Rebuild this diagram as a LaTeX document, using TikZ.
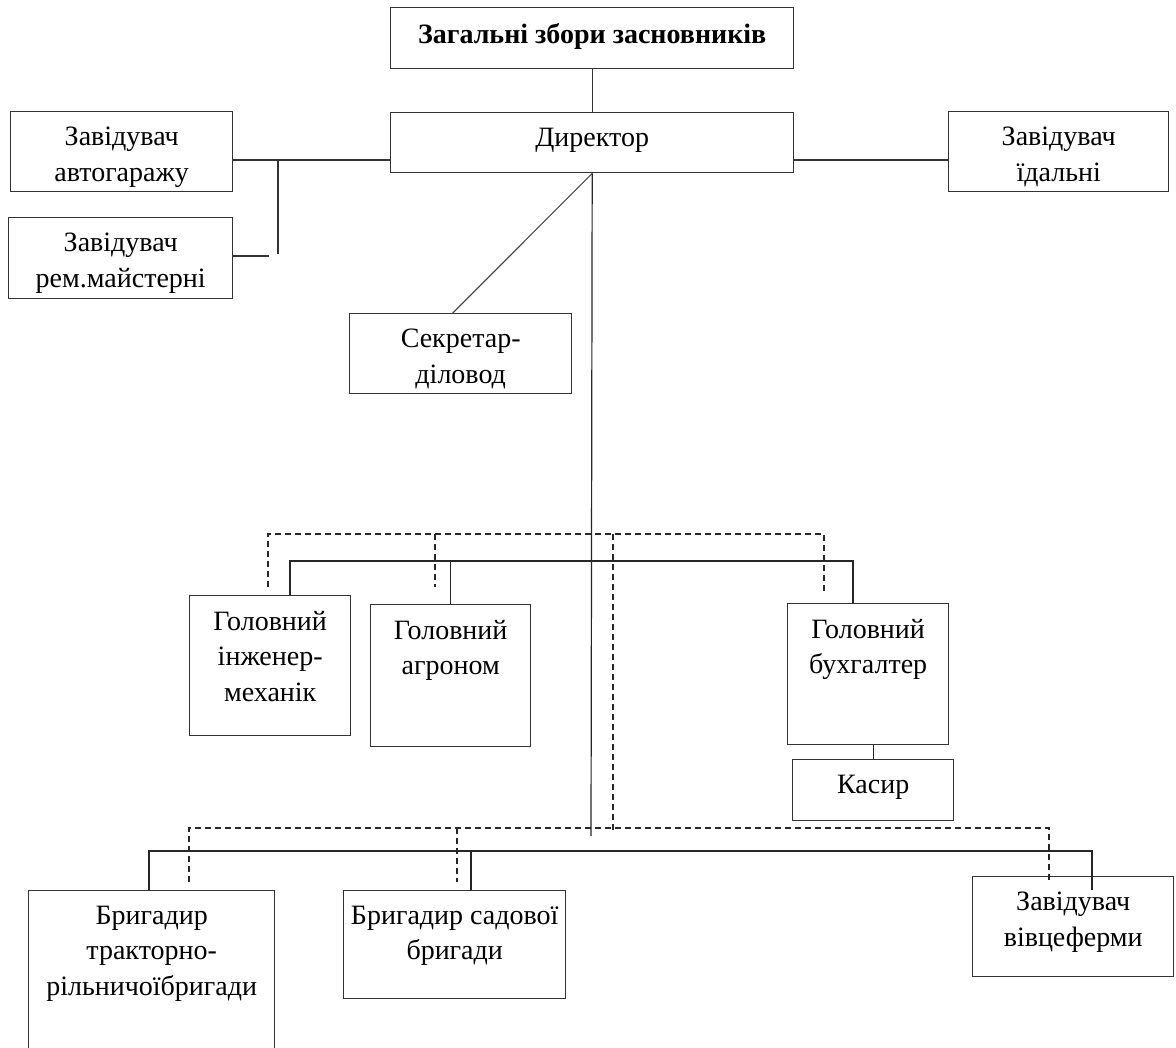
\documentclass[tikz,border=0pt]{standalone}
\usepackage{fontspec}
\setmainfont{Liberation Serif}
\usetikzlibrary{positioning}
\begin{document}
\begin{tikzpicture}[x=1pt, y=-1pt, line width=1.2pt,
		box/.style={draw=black!80, line width=1.4pt, inner sep=0pt, anchor=north west},
		lbl/.style={anchor=north, align=center, inner sep=0pt, yshift=-15.5pt, font=\fontsize{28}{35.5}\selectfont}]
		\useasboundingbox[fill=white] (0,0) rectangle (1176,1048);
		\node[box, minimum width=403pt, minimum height=61pt, label={[lbl, font=\fontsize{28}{35.5}\selectfont\bfseries]north:{Загальні збори засновників}}] (zbory) at (390,7) {};
		\node[box, minimum width=403pt, minimum height=60pt, label={[lbl]north:{Директор}}] (dyr) at (390,112) {};
		\node[box, minimum width=222pt, minimum height=80pt, label={[lbl]north:{Завідувач\\автогаражу}}] (garazh) at (10,111) {};
		\node[box, minimum width=224pt, minimum height=81pt, label={[lbl]north:{Завідувач\\рем.майстерні}}] (maist) at (8,217) {};
		\node[box, minimum width=220pt, minimum height=80pt, label={[lbl]north:{Завідувач\\їдальні}}] (idal) at (948,111) {};
		\node[box, minimum width=222pt, minimum height=80pt, label={[lbl]north:{Секретар-\\діловод}}] (sekr) at (349,313) {};
		\node[box, minimum width=161pt, minimum height=140pt, label={[lbl]north:{Головний\\інженер-\\механік}}] (inzh) at (189,595) {};
		\node[box, minimum width=160pt, minimum height=142pt, label={[lbl]north:{Головний\\агроном}}] (agro) at (370,604) {};
		\node[box, minimum width=161pt, minimum height=141pt, label={[lbl]north:{Головний\\бухгалтер}}] (buh) at (787,603) {};
		\node[box, minimum width=161pt, minimum height=61pt, label={[lbl]north:{Касир}}] (kasyr) at (792,759) {};
		\node[box, minimum width=246pt, minimum height=200pt, label={[lbl]north:{Бригадир\\тракторно-\\рільничоїбригади}}] (trakt) at (28,890) {};
		\node[box, minimum width=222pt, minimum height=108pt, label={[lbl]north:{Бригадир садової\\бригади}}] (sad) at (343,890) {};
		\node[box, minimum width=201pt, minimum height=100pt, label={[lbl]north:{Завідувач\\вівцеферми}}] (vivc) at (972,876) {};
		\draw[black!80] (zbory.south) -- (dyr.north);
		\draw[black!80] (garazh.east |- 0,160) -- (dyr.west |- 0,160);
		\draw[black!80] (dyr.east |- 0,160) -- (idal.west |- 0,160);
		\draw[black!80] (278,160) -- (278,254);
		\draw[black!80] (maist.east |- 0,256) -- (269,256);
		\draw[black!70] (dyr.south) -- ([xshift=-8pt]sekr.north);
		\coordinate (hub) at (591,836);
		\draw[black!85] (dyr.south) -- (hub);
		\draw[black!85] (inzh.north -| 290,0) -- (290,561) -- (853,561) -- (buh.north -| 853,0);
		\draw[black!85] (agro.north) -- (agro.north |- 0,561);
		\draw[black!85] (kasyr.north) -- (kasyr.north |- buh.south);
		\draw[black!85, dash pattern=on 6pt off 4pt] (268,587) |- (824,534) -- (824,594)
		(435,534) -- (435,587)
		(613,534) -- (613,832);
		\draw[black!85, dash pattern=on 6pt off 4pt] (189,882) |- (1049,828) -- (1049,880)
		(457,828) -- (457,882);
		\draw[black!85] (trakt.north -| 149,0) |- (1092,851) -- (1092,890);
		\draw[black!85] (471,851) -- (sad.north -| 471,0);
\end{tikzpicture}
\end{document}
